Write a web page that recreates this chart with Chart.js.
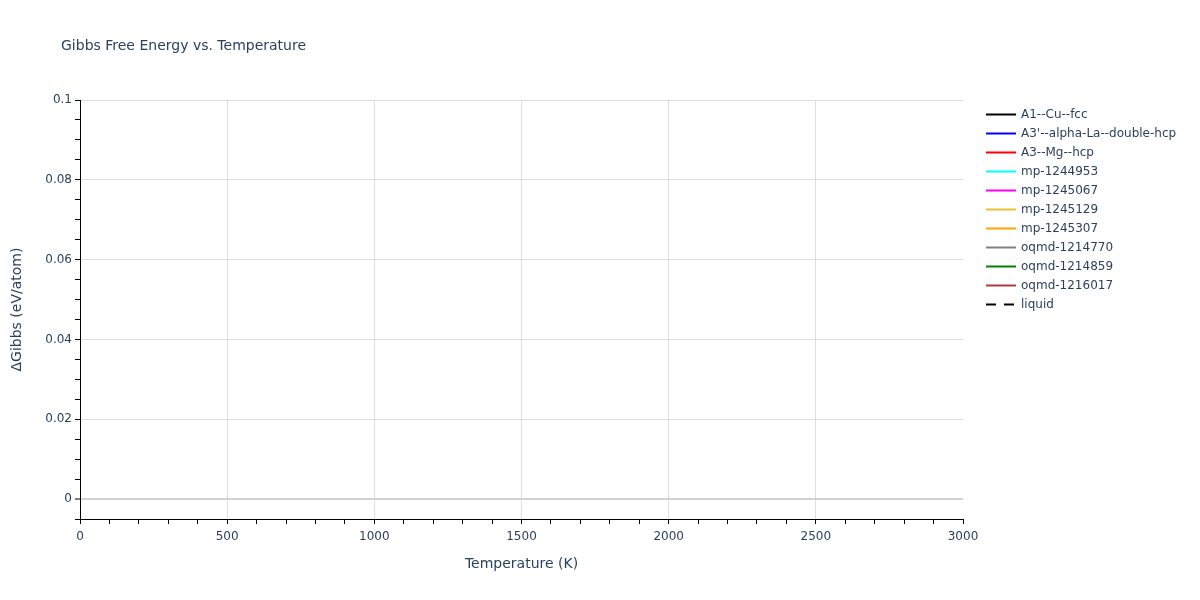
<!DOCTYPE html>
<html>
<head>
<meta charset="utf-8">
<script src="https://cdn.jsdelivr.net/npm/chart.js@4"></script>
<style>
html,body{margin:0;padding:0;background:#fff;}
#wrap{width:1200px;height:600px;position:relative;}
</style>
</head>
<body>
<div id="wrap"><canvas id="c" width="1200" height="600"></canvas></div>
<script>
// ---- data ----
const chartTitle = "Gibbs Free Energy vs. Temperature";
const xTitle = "Temperature (K)";
const yTitle = "ΔGibbs (eV/atom)";
const seriesNames = ["A1--Cu--fcc","A3'--alpha-La--double-hcp","A3--Mg--hcp","mp-1244953","mp-1245067","mp-1245129","mp-1245307","oqmd-1214770","oqmd-1214859","oqmd-1216017","liquid"];
const seriesColors = ["#000000","#0000ff","#ff0000","#00ffff","#ff00ff","#e8c234","#ffa500","#808080","#008000","#b03a3a","#000000"];
const seriesDashed = [false,false,false,false,false,false,false,false,false,false,true];
// No curve falls inside the visible window in the reference: series are empty
const seriesValues = [[],[],[],[],[],[],[],[],[],[],[]];
const xRange = [0, 3000];
const yRange = [-0.005, 0.1];

const FONT = '"DejaVu Sans", Verdana, sans-serif';
const TXT = '#2a3f5f';

const datasets = seriesNames.map((n,i)=>({
  label:n,
  data:seriesValues[i],
  borderColor:seriesColors[i],
  backgroundColor:seriesColors[i],
  borderWidth:2,
  borderDash: seriesDashed[i]?[8,6]:[],
  pointRadius:0,
  fill:false
}));

const textPlugin = {
  id:'texts',
  afterDraw(chart){
    const ctx = chart.ctx;
    const a = chart.chartArea;
    ctx.save();
    ctx.fillStyle = TXT;
    ctx.font = '14px ' + FONT;
    ctx.textBaseline = 'middle';
    ctx.textAlign = 'left';
    ctx.fillText(chartTitle, 61, 46);
    ctx.font = '14px ' + FONT;
    ctx.textAlign = 'center';
    ctx.fillText(xTitle, (a.left+a.right)/2, 564);
    ctx.save();
    ctx.translate(17, (a.top+a.bottom)/2);
    ctx.rotate(-Math.PI/2);
    ctx.fillText(yTitle, 0, 0);
    ctx.restore();
    // legend
    ctx.font = '12px ' + FONT;
    ctx.textAlign = 'left';
    chart.data.datasets.forEach((d,i)=>{
      const y = 114.5 + i*19;
      ctx.beginPath();
      ctx.strokeStyle = d.borderColor;
      ctx.lineWidth = 2;
      ctx.setLineDash(d.borderDash.length?[10,8]:[]);
      ctx.moveTo(986, y);
      ctx.lineTo(1016, y);
      ctx.stroke();
      ctx.setLineDash([]);
      ctx.fillStyle = TXT;
      ctx.fillText(d.label, 1021, y);
    });
    ctx.restore();
  }
};

const isMajorX = v => Math.round(v) % 500 === 0;
const isMajorY = v => Math.round(v*1000) % 20 === 0;

new Chart(document.getElementById('c'), {
  type:'line',
  data:{datasets},
  options:{
    responsive:false,
    animation:false,
    parsing:true,
    layout:{padding:{top:100,right:237,left:0,bottom:0}},
    plugins:{legend:{display:false},title:{display:false},tooltip:{enabled:false}},
    scales:{
      x:{
        type:'linear', min:xRange[0], max:xRange[1],
        afterFit(s){ s.height = 81; },
        ticks:{
          stepSize:100, autoSkip:false, maxRotation:0,
          color:TXT, font:{family:FONT,size:12}, padding:6,
          callback:v => isMajorX(v) ? String(v) : ''
        },
        grid:{
          drawOnChartArea:true, drawTicks:true, tickLength:5,
          color: c => (isMajorX(c.tick.value) && c.tick.value>0 && c.tick.value<3000) ? '#dedede' : 'rgba(0,0,0,0)',
          tickColor:'#000', tickWidth:1, lineWidth:1
        },
        border:{display:true,color:'#000',width:1}
      },
      y:{
        type:'linear', min:yRange[0], max:yRange[1],
        afterFit(s){ s.width = 80; },
        ticks:{
          stepSize:0.005, autoSkip:false,
          color:TXT, font:{family:FONT,size:12}, padding:3,
          callback:v => isMajorY(v) ? String(Number(v.toFixed(3))) : ''
        },
        grid:{
          drawTicks:true, tickLength:5,
          color: c => {
            const v = c.tick.value;
            if (Math.abs(v) < 1e-9) return '#d2d2d2';
            return isMajorY(v) && v > 0 ? '#dedede' : 'rgba(0,0,0,0)';
          },
          lineWidth: c => Math.abs(c.tick.value) < 1e-9 ? 2 : 1,
          tickColor:'#000', tickWidth:1
        },
        border:{display:true,color:'#000',width:1}
      }
    }
  },
  plugins:[textPlugin]
});
</script>
</body>
</html>
